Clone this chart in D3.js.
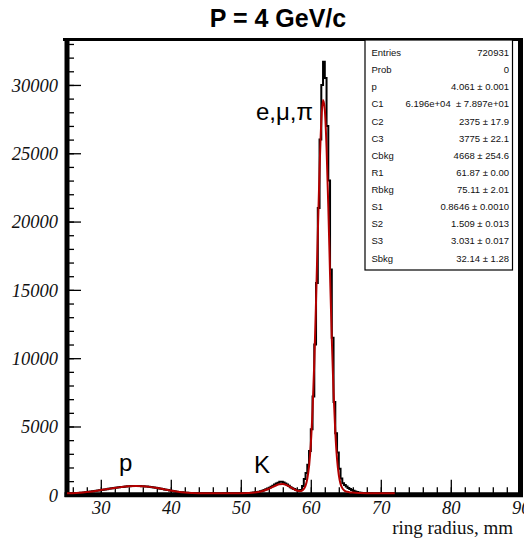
<!doctype html>
<html>
<head>
<meta charset="utf-8">
<title>P = 4 GeV/c</title>
<script src="https://cdn.jsdelivr.net/npm/d3@7"></script>
<style>
  body { margin: 0; background: #fff; }
  svg { display: block; }
</style>
</head>
<body>
<svg id="chart"></svg>
<script>
// ring radius histogram, 0.25 mm bins starting at 25 mm (one row = 2 mm)
const binStart = 25, binWidth = 0.25;
const counts = [
  100, 103, 108, 112, 118, 122, 128, 134,              // 25
  145, 155, 170, 185, 200, 215, 235, 255,              // 27
  275, 295, 315, 335, 355, 375, 395, 415,              // 29
  435, 455, 475, 495, 515, 535, 550, 565,              // 31
  580, 595, 605, 620, 630, 640, 645, 650,              // 33
  650, 648, 642, 635, 625, 615, 603, 590,              // 35
  575, 560, 540, 520, 495, 470, 445, 420,              // 37
  395, 370, 345, 320, 295, 270, 250, 230,              // 39
  210, 195, 180, 167, 155, 147, 140, 132,              // 41
  125, 121, 118, 115, 112, 111, 110, 109,              // 43
  108, 107, 106, 105, 105, 104, 104, 104,              // 45
  104, 104, 105, 105, 106, 107, 108, 109,              // 47
  110, 111, 112, 114, 116, 119, 122, 127,              // 49
  132, 140, 150, 165, 180, 205, 230, 265,              // 51
  300, 350, 400, 460, 520, 590, 660, 745,              // 53
  830, 890, 950, 960, 900, 830, 750, 660,              // 55
  560, 480, 420, 370, 340, 320, 350, 650,              // 57
  1150, 1600, 2200, 3200, 4800, 7200, 11000, 15500,    // 59
  21000, 26000, 30000, 31700, 30500, 27000, 23000, 16500, // 61
  11500, 6800, 4500, 3100, 1900, 1200, 850, 720,       // 63
  600, 500, 430, 360, 300, 240, 200, 170,              // 65
  145, 130, 120, 115, 110, 107, 105, 103,              // 67
  102, 101, 100, 100, 100, 100, 100, 100,              // 69
  100, 100, 100, 100                                   // 71
];

// fitted function (red)
const fitX = [25, 26, 27, 28, 29, 30, 31, 32, 33, 34, 35, 36, 37, 38, 39, 40, 41, 42, 43, 44,
  45, 46, 47, 48, 49, 50, 51, 52, 53, 54, 54.5, 55, 55.5, 56, 56.5, 57, 57.5, 58,
  58.5, 58.75, 59, 59.25, 59.5, 59.75, 60, 60.25, 60.5, 60.75, 61, 61.25, 61.5, 61.75,
  62, 62.25, 62.5, 62.75, 63, 63.25, 63.5, 63.75, 64, 64.25, 64.5, 64.75, 65,
  65.5, 66, 67, 68, 69, 70, 71, 72];
const fitY = [110, 120, 150, 200, 265, 345, 425, 505, 575, 625, 645, 630, 580, 505, 410, 315, 230, 170, 135, 118,
  110, 106, 105, 105, 108, 114, 128, 165, 260, 440, 560, 680, 770, 790, 720, 590, 440, 320,
  280, 310, 430, 670, 1170, 2100, 3700, 6200, 9700, 14200, 19100, 23800, 27300, 28900,
  28200, 25400, 21100, 16100, 11400, 7500, 4600, 2600, 1450, 800, 490, 330, 250,
  190, 160, 130, 115, 110, 108, 106, 105];

const xMajorTicks = [30, 40, 50, 60, 70, 80, 90];
const xMinorTicks = d3.range(26, 91, 2);
const yMajorTicks = [0, 5000, 10000, 15000, 20000, 25000, 30000];
const yMinorTicks = d3.range(0, 34000, 1000);

const statNames = ["Entries", "Prob", "p", "C1", "C2", "C3", "Cbkg", "R1", "Rbkg", "S1", "S2", "S3", "Sbkg"];
const statValues = ["720931", "0", "4.061 \u00b1 0.001", "6.196e+04  \u00b1 7.897e+01", "2375 \u00b1 17.9",
  "3775 \u00b1 22.1", "4668 \u00b1 254.6", "61.87 \u00b1 0.00", "75.11 \u00b1 2.01",
  "0.8646 \u00b1 0.0010", "1.509 \u00b1 0.013", "3.031 \u00b1 0.017", "32.14 \u00b1 1.28"];

const width = 524, height = 538;
const svg = d3.select("#chart")
  .attr("width", width)
  .attr("height", height)
  .style("font-family", "'Liberation Sans', Arial, sans-serif");

const x = d3.scaleLinear().domain([25, 90]).range([65.8, 520.8]);
const y = d3.scaleLinear().domain([0, 33400]).range([494.8, 38.5]);

svg.append("defs").append("clipPath").attr("id", "plot-clip")
  .append("rect").attr("x", 67).attr("y", 38).attr("width", 453).attr("height", 457);

// title
svg.append("text")
  .attr("x", 278).attr("y", 27)
  .attr("text-anchor", "middle")
  .attr("font-weight", "bold")
  .attr("font-size", 25)
  .text("P = 4 GeV/c");

// ticks
const serif = "'Liberation Serif', 'Times New Roman', serif";

const xMinor = svg.append("g").attr("transform", `translate(0,${y(0)})`)
  .call(d3.axisBottom(x).tickValues(xMinorTicks).tickSize(-7.5).tickFormat(""));
const xMajor = svg.append("g").attr("transform", `translate(0,${y(0)})`)
  .call(d3.axisBottom(x).tickValues(xMajorTicks).tickSize(-15).tickFormat(d3.format("d")));
const yMinor = svg.append("g").attr("transform", "translate(67,0)")
  .call(d3.axisLeft(y).tickValues(yMinorTicks).tickSize(-7).tickFormat(""));
const yMajor = svg.append("g").attr("transform", "translate(67,0)")
  .call(d3.axisLeft(y).tickValues(yMajorTicks).tickSize(-14).tickFormat(d3.format("d")));

[xMinor, xMajor, yMinor, yMajor].forEach(g => {
  g.select(".domain").remove();
  g.selectAll(".tick line").attr("stroke", "#000").attr("stroke-width", 1.3);
});

xMajor.selectAll("text")
  .attr("y", 19.5).attr("dy", 0)
  .attr("font-family", serif).attr("font-style", "italic")
  .attr("font-size", 18.5).attr("fill", "#111");
yMajor.selectAll("text")
  .attr("x", -9).attr("dy", "0.34em")
  .attr("font-family", serif).attr("font-style", "italic")
  .attr("font-size", 18.5).attr("fill", "#111");

// frame
const frame = svg.append("g").attr("stroke", "#000").attr("fill", "none");
frame.append("line").attr("x1", 63).attr("x2", 523).attr("y1", 39.5).attr("y2", 39.5).attr("stroke-width", 3);
frame.append("line").attr("x1", 67).attr("x2", 67).attr("y1", 38).attr("y2", 497).attr("stroke-width", 5);
frame.append("line").attr("x1", 520.5).attr("x2", 520.5).attr("y1", 38).attr("y2", 497).attr("stroke-width", 5);
frame.append("line").attr("x1", 64.5).attr("x2", 523).attr("y1", 494.8).attr("y2", 494.8).attr("stroke-width", 5);

// histogram as steps
const histPts = counts.map((c, i) => [binStart + i * binWidth, c]);
histPts.push([binStart + counts.length * binWidth, counts[counts.length - 1]]);

const plot = svg.append("g").attr("clip-path", "url(#plot-clip)");

plot.append("path")
  .datum(histPts)
  .attr("fill", "none")
  .attr("stroke", "#000")
  .attr("stroke-width", 2)
  .attr("d", d3.line().x(d => x(d[0])).y(d => y(d[1])).curve(d3.curveStepAfter));

plot.append("path")
  .datum(fitX.map((v, i) => [v, fitY[i]]))
  .attr("fill", "none")
  .attr("stroke", "#b40000")
  .attr("stroke-width", 2)
  .attr("d", d3.line().x(d => x(d[0])).y(d => y(d[1])).curve(d3.curveMonotoneX));

// peak labels
svg.append("text").attr("x", 256).attr("y", 120).attr("font-size", 24).text("e,\u03bc,\u03c0");
svg.append("text").attr("x", 119).attr("y", 471).attr("font-size", 24).text("p");
svg.append("text").attr("x", 254).attr("y", 473).attr("font-size", 24).text("K");

// axis title
svg.append("text")
  .attr("x", 513).attr("y", 533.5)
  .attr("text-anchor", "end")
  .attr("font-family", serif)
  .attr("font-size", 19)
  .attr("fill", "#111")
  .text("ring radius, mm");

// stats box
const stats = svg.append("g");
stats.append("rect")
  .attr("x", 365).attr("y", 40).attr("width", 147.5).attr("height", 230)
  .attr("fill", "#fff").attr("stroke", "#000").attr("stroke-width", 1.2);
stats.selectAll("text.name")
  .data(statNames)
  .join("text")
  .attr("class", "name")
  .attr("x", 371.5)
  .attr("y", (d, i) => 56 + i * 17.13)
  .attr("font-size", 9.5)
  .attr("fill", "#111")
  .text(d => d);
stats.selectAll("text.val")
  .data(statValues)
  .join("text")
  .attr("class", "val")
  .attr("x", 509)
  .attr("y", (d, i) => 56 + i * 17.13)
  .attr("text-anchor", "end")
  .attr("font-size", 9.5)
  .attr("fill", "#111")
  .style("white-space", "pre")
  .text(d => d);
</script>
</body>
</html>
